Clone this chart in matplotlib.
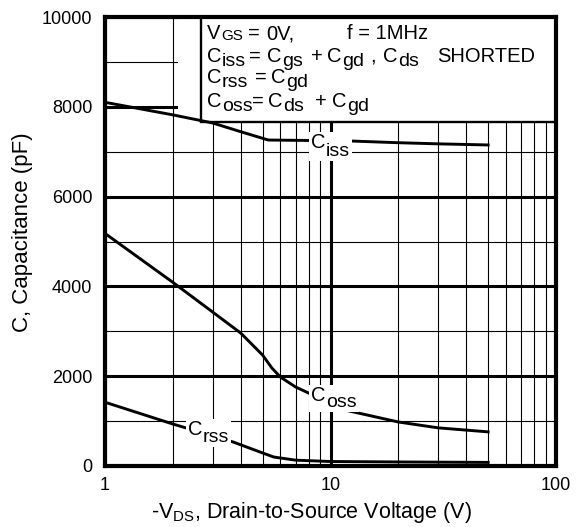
import matplotlib
matplotlib.use('Agg')
import matplotlib.pyplot as plt
from matplotlib.patches import Rectangle
from matplotlib.ticker import FixedLocator, NullFormatter
from matplotlib.transforms import IdentityTransform, Bbox

plt.rcParams['font.family'] = 'Liberation Sans'
plt.rcParams['mathtext.fontset'] = 'custom'
plt.rcParams['mathtext.rm'] = 'Liberation Sans'
plt.rcParams['mathtext.it'] = 'Liberation Sans'
plt.rcParams['mathtext.bf'] = 'Liberation Sans:bold'

# values
vds_iss = [1, 2, 3, 4, 5.3, 8, 12, 20, 30, 50]
c_iss = [8100, 7820, 7640, 7445, 7260, 7250, 7240, 7200, 7175, 7150]

vds_oss = [1, 2, 3, 4, 5, 5.5, 6, 7, 8, 11.5, 20, 30, 50]
c_oss = [5180, 4090, 3430, 2960, 2470, 2180, 1980, 1760, 1625, 1250, 980, 850, 760]

vds_rss = [1, 2, 3.7, 5, 5.6, 7, 10, 20, 50]
c_rss = [1420, 935, 535, 290, 200, 130, 100, 90, 80]

yticks = [0, 2000, 4000, 6000, 8000, 10000]
xticks = [1, 10, 100]
xticklabels = ['1', '10', '100']

W, H = 576, 527
fig = plt.figure(figsize=(W / 100, H / 100), dpi=100)
ax = fig.add_axes([105 / W, 61 / H, 451 / W, 449 / H])
ax.set_xscale('log')
ax.set_xlim(1, 100)
ax.set_ylim(0, 10000)

ax.set_xticks(xticks)
ax.set_xticklabels(xticklabels)
ax.xaxis.set_minor_locator(FixedLocator([2, 3, 4, 5, 6, 7, 8, 9, 20, 30, 40, 50, 60, 70, 80, 90]))
ax.xaxis.set_minor_formatter(NullFormatter())
ax.set_yticks(yticks)
ax.yaxis.set_minor_locator(FixedLocator([1000, 3000, 5000, 7000, 9000]))
ax.tick_params(which='both', length=0, labelsize=13)
ax.tick_params(axis='x', pad=8)
ax.tick_params(axis='y', pad=9)

ax.set_axisbelow(True)
ax.grid(which='major', color='black', lw=2.2)
ax.grid(which='minor', color='black', lw=0.8)
for s in ax.spines.values():
    s.set_linewidth(3)

# condition box (white area hides the grid)
ax.add_patch(Rectangle((2.1, 7668), 100 - 2.1, 10000 - 7668, facecolor='white',
                       edgecolor='none', zorder=1.5))
ax.add_patch(Rectangle((2.666, 7668), 100 - 2.666, 10000 - 7668, facecolor='none',
                       edgecolor='black', lw=1.7, zorder=4))

ax.plot(vds_iss, c_iss, color='black', lw=2.1, zorder=3)
ax.plot(vds_oss, c_oss, color='black', lw=2.1, zorder=3)
ax.plot(vds_rss, c_rss, color='black', lw=2.1, zorder=3)

renderer = fig.canvas.get_renderer()


def token(x, base, main, sub=None, fs=14.5, sfs=14, drop=4):
    # x, base: pixels from the top-left corner of the figure
    t = ax.text(x, H - base, main, fontsize=fs, transform=IdentityTransform(),
                ha='left', va='baseline', zorder=6)
    boxes = [t.get_window_extent(renderer)]
    if sub:
        s = ax.text(boxes[0].x1 + 0.5, H - base - drop, sub, fontsize=sfs,
                    transform=IdentityTransform(), ha='left', va='baseline', zorder=6)
        boxes.append(s.get_window_extent(renderer))
    return Bbox.union(boxes)


def curve_label(x, base, sub, drop):
    bb = token(x, base, 'C', sub, fs=14.5, sfs=14, drop=drop)
    ax.add_patch(Rectangle((bb.x0 - 2, bb.y0 - 1), bb.width + 4, bb.height + 2,
                           transform=IdentityTransform(), facecolor='white',
                           edgecolor='none', zorder=5))


curve_label(311, 148, 'iss', 8)
curve_label(311, 401, 'oss', 6)
curve_label(188, 435, 'rss', 7)

# condition box text
token(207, 39, 'V', 'GS', sfs=11, drop=0.5)
token(248, 39, '=')
token(266, 39, '0V,')
token(347, 39, 'f = 1MHz')

token(207, 62, 'C', 'iss')
token(249, 62, '=')
token(267, 62, 'C', 'gs')
token(311, 62, '+')
token(327, 62, 'C', 'gd')
token(370, 62, ',')
token(383, 62, 'C', 'ds')
token(437, 62, 'SHORTED')

token(207, 83, 'C', 'rss')
token(255, 83, '=')
token(271, 83, 'C', 'gd')

token(207, 107, 'C', 'oss')
token(252, 107, '=')
token(268, 107, 'C', 'ds')
token(315, 107, '+')
token(332, 107, 'C', 'gd')

ax.set_ylabel('C, Capacitance (pF)', fontsize=16)
ax.yaxis.set_label_coords(-0.16, 0.521)
ax.set_xlabel(r'-V$_{DS}$, Drain-to-Source Voltage (V)', fontsize=15.5)
ax.xaxis.set_label_coords(0.459, -0.076)

fig.savefig('out.png', dpi=100)
